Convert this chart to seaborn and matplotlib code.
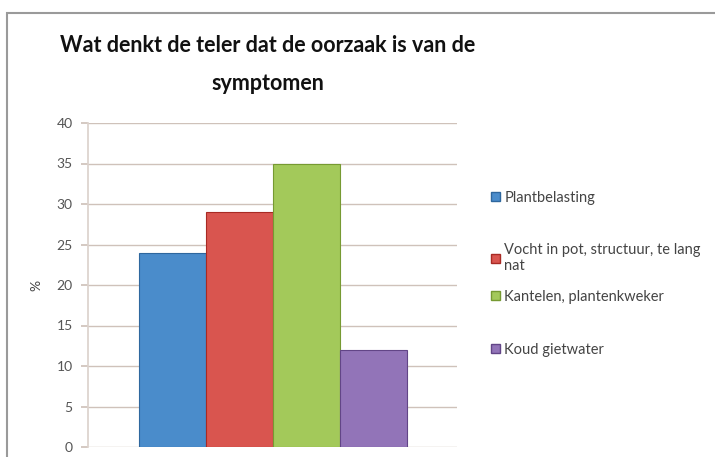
import numpy as np
import pandas as pd
import seaborn as sns
import matplotlib.pyplot as plt
from matplotlib.patches import Rectangle, Patch

# data
oorzaken = ["Plantbelasting", "Vocht in pot, structuur, te lang\nnat",
            "Kantelen, plantenkweker", "Koud gietwater"]
procent = [24, 29, 35, 12]
kleuren = ["#4a8ccb", "#d9554f", "#a3c95a", "#9274b8"]
yticks = list(range(0, 41, 5))
legend_y = [198, 258, 297, 350]  # pixel rows of the legend entries

sns.set_theme(style="white")
plt.rcParams['font.family'] = ['Lato', 'DejaVu Sans']

df = pd.DataFrame({"oorzaak": oorzaken, "procent": procent})

fig = plt.figure(figsize=(7.15, 4.57), dpi=100)
ax = fig.add_axes([88 / 715, 1 - 447 / 457, (457 - 88) / 715, (447 - 123) / 457])

sns.barplot(data=df, x="oorzaak", y="procent", hue="oorzaak", palette=kleuren,
            width=1.0, saturation=1, legend=False, ax=ax, zorder=3)
for p, c in zip(ax.patches, kleuren):
    p.set_edgecolor(sns.set_hls_values(c, l=0.4))
    p.set_linewidth(0.8)

ax.set_xlim(-1.26, 4.25)
ax.set_ylim(0, 40)
ax.set_yticks(yticks)
ax.set_xticks([])
ax.set_xlabel("")
ax.set_ylabel("%", fontsize=10, color="#444444", labelpad=10)
ax.grid(axis="y", color="#cfc2ba", linewidth=1, zorder=0)
for s in ["top", "right", "bottom"]:
    ax.spines[s].set_visible(False)
ax.spines["left"].set_color("#dcd3cd")
ax.tick_params(axis="y", left=True, length=5, color="#cfc2ba", labelsize=10,
               labelcolor="#555555", pad=6)

fig.text(268 / 715, 1 - 46 / 457, "Wat denkt de teler dat de oorzaak is van de",
         ha="center", va="center", fontsize=15.5, fontweight="bold", color="#111111")
fig.text(268 / 715, 1 - 84 / 457, "symptomen",
         ha="center", va="center", fontsize=15.5, fontweight="bold", color="#111111")

for lab, c, y in zip(oorzaken, kleuren, legend_y):
    h = Patch(facecolor=c, edgecolor=sns.set_hls_values(c, l=0.4))
    fig.legend([h], [lab], loc="center left", bbox_to_anchor=(484 / 715, 1 - y / 457),
               frameon=False, fontsize=10.5, handlelength=0.6, handleheight=0.6,
               handletextpad=0.3, labelcolor="#444444", borderpad=0)

# chart frame
fig.patches.append(Rectangle((7 / 715, -0.1), 1, 1 - 13 / 457 + 0.1, transform=fig.transFigure,
                             fill=False, edgecolor="#9a9a9a", linewidth=1.5))

fig.savefig("out.png", dpi=100)
